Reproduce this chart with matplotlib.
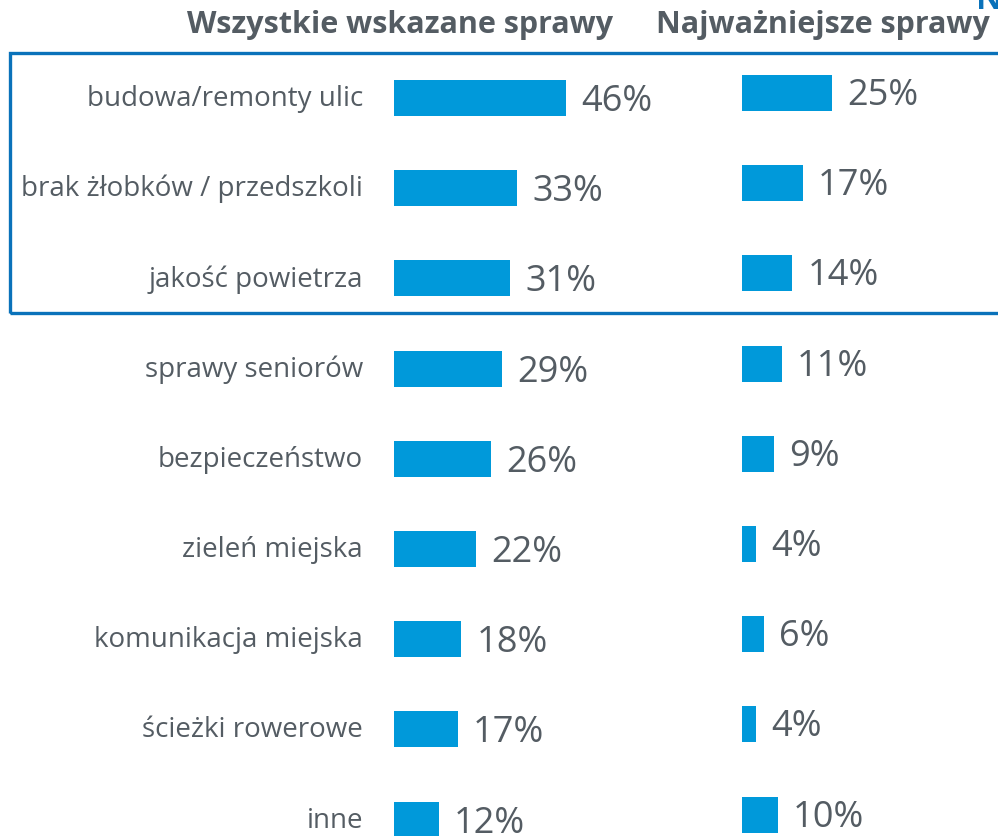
import matplotlib
matplotlib.use("Agg")
import matplotlib.pyplot as plt
from matplotlib.patches import Rectangle

categories = ["budowa/remonty ulic", "brak żłobków / przedszkoli", "jakość powietrza",
              "sprawy seniorów", "bezpieczeństwo", "zieleń miejska",
              "komunikacja miejska", "ścieżki rowerowe", "inne"]
all_issues = [46, 33, 31, 29, 26, 22, 18, 17, 12]
top_issues = [25, 17, 14, 11, 9, 4, 6, 4, 10]
header_left = "Wszystkie wskazane sprawy"
header_right = "Najważniejsze sprawy"

W, H = 998, 836
BAR = "#0099DA"
TXT = "#545C63"
FRAME = "#0A72BA"
FONT = "Open Sans"
plt.rcParams["font.family"] = [FONT, "DejaVu Sans"]

fig = plt.figure(figsize=(W / 100, H / 100), dpi=100)
row = 90.2

def make_ax(x0, x1, px_per_unit, first_center):
    ax = fig.add_axes([x0 / W, 0, (x1 - x0) / W, 1])
    ax.set_xlim(0, (x1 - x0) / px_per_unit)
    ax.set_ylim((H - first_center) / row, -first_center / row)
    ax.axis("off")
    return ax

axL = make_ax(394, 700, 3.74, 98)
axR = make_ax(742, 998, 3.6, 93)

ys = list(range(len(categories)))
axL.barh(ys, all_issues, height=0.4, color=BAR)
axR.barh(ys, top_issues, height=0.4, color=BAR)

for y, v in zip(ys, all_issues):
    axL.annotate(f"{v}%", (v, y), xytext=(15, -4), textcoords="offset pixels",
                 ha="left", va="center", fontsize=26, color=TXT, annotation_clip=False)

for y, v in zip(ys, top_issues):
    axR.annotate(f"{v}%", (v, y), xytext=(15, -3), textcoords="offset pixels",
                 ha="left", va="center", fontsize=26, color=TXT, annotation_clip=False)

for y, c in zip(ys, categories):
    axL.annotate(c, (0, y), xytext=(-31, -1), textcoords="offset pixels",
                 ha="right", va="center", fontsize=20, color=TXT, annotation_clip=False)

fig.text(400 / W, 1 - 25 / H, header_left, ha="center", va="center",
         fontsize=22, fontweight="bold", color=TXT)
fig.text(823 / W, 1 - 25 / H, header_right, ha="center", va="center",
         fontsize=22, fontweight="bold", color=TXT)
# partially visible heading in the top-right corner
fig.text(976 / W, 1 - 9 / H, "N", ha="left", va="baseline",
         fontsize=24, fontweight="bold", color=FRAME)

fig.patches.append(Rectangle((10 / W, 1 - 313 / H), 1.0, 260 / H,
                             transform=fig.transFigure, fill=False,
                             edgecolor=FRAME, linewidth=2.4, clip_on=False))

fig.savefig("out.png", dpi=100)
